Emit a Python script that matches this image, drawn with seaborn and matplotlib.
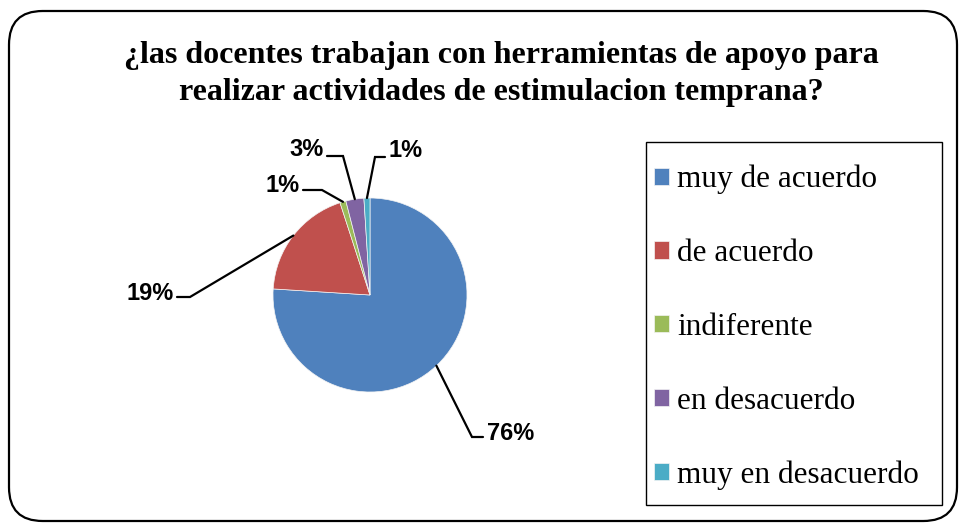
import numpy as np
import matplotlib
matplotlib.use("Agg")
import matplotlib.pyplot as plt
from matplotlib.patches import FancyBboxPatch, Rectangle
import seaborn as sns

# data
categories = ["muy de acuerdo", "de acuerdo", "indiferente", "en desacuerdo", "muy en desacuerdo"]
percentages = [76, 19, 1, 3, 1]
labels = ["76%", "19%", "1%", "3%", "1%"]
colors = ["#4F81BD", "#C0504D", "#9BBB59", "#8064A2", "#4BACC6"]

title = "¿las docentes trabajan con herramientas de apoyo para\nrealizar actividades de estimulacion temprana?"

sns.set_theme(style="white")
plt.rcParams["font.family"] = ["Liberation Sans", "DejaVu Sans"]
plt.rcParams["text.color"] = "black"

W, H = 963, 523
fig = plt.figure(figsize=(W / 100, H / 100), dpi=100)
fig.patch.set_facecolor("white")

# rounded outer frame
frame = FancyBboxPatch((9 / W, 2 / H), 948 / W, 510 / H,
                       boxstyle="round,pad=0,rounding_size=0.035",
                       transform=fig.transFigure, facecolor="none",
                       edgecolor="black", linewidth=1.6, mutation_aspect=W / H)
fig.patches.append(frame)

fig.text(501 / W, 1 - 74 / H, title, ha="center", va="center",
         fontsize=23, fontweight="bold", family=["Liberation Serif", "DejaVu Serif"],
         linespacing=1.33, color="black")

# pie axes, 1 data unit = pie radius (97 px), centre at px (370, 295)
R, cx, cy = 97, 370, 295
x0, x1, ytop, ybot = 100, 640, 110, 480
ax = fig.add_axes([x0 / W, 1 - ybot / H, (x1 - x0) / W, (ybot - ytop) / H])

wedges, _ = ax.pie(percentages, colors=colors, startangle=90, counterclock=False,
                   radius=1, center=(0, 0), frame=True,
                   wedgeprops=dict(linewidth=0.5, edgecolor="#f4f4f4"))
ax.set_xlim((x0 - cx) / R, (x1 - cx) / R)
ax.set_ylim((cy - ybot) / R, (cy - ytop) / R)
ax.set_aspect("auto")
ax.axis("off")

# label layout: (elbow px, text px, side)
layout = [
    ((472, 437), (487, 433), "left"),
    ((190, 297), (174, 294), "right"),
    ((322, 190), (300, 186), "right"),
    ((343, 156), (324, 150), "right"),
    ((375, 157), (389, 151), "left"),
]


def px(p):
    return ((p[0] - cx) / R, (cy - p[1]) / R)


for w, lab, (elb, txt, side) in zip(wedges, labels, layout):
    mid = np.deg2rad((w.theta1 + w.theta2) / 2)
    ax_pt = (np.cos(mid), np.sin(mid))
    ex, ey = px(elb)
    tx, ty = px(txt)
    end_x = tx - 4 / R if side == "left" else tx + 3 / R
    ax.plot([ax_pt[0], ex, end_x], [ax_pt[1], ey, ey], color="black", lw=1.6,
            clip_on=False, solid_joinstyle="miter")
    ax.text(tx, ty, lab, ha=side, va="center", fontsize=17, fontweight="bold",
            color="black", clip_on=False)

# legend box drawn separately so its size matches the original
fig.patches.append(Rectangle((646 / W, 1 - 505 / H), 296 / W, 363 / H,
                             transform=fig.transFigure, facecolor="white",
                             edgecolor="black", linewidth=1.0, zorder=1))
leg = fig.legend(wedges, categories, loc="upper left",
                 bbox_to_anchor=(654 / W, 1 - 165 / H),
                 prop={"family": ["Liberation Serif", "DejaVu Serif"], "size": 22.5},
                 frameon=False, handlelength=0.47, handleheight=0.47,
                 handletextpad=0.28, labelspacing=1.43, borderpad=0,
                 borderaxespad=0, labelcolor="black")

fig.savefig("out.png", dpi=100, facecolor="white")
